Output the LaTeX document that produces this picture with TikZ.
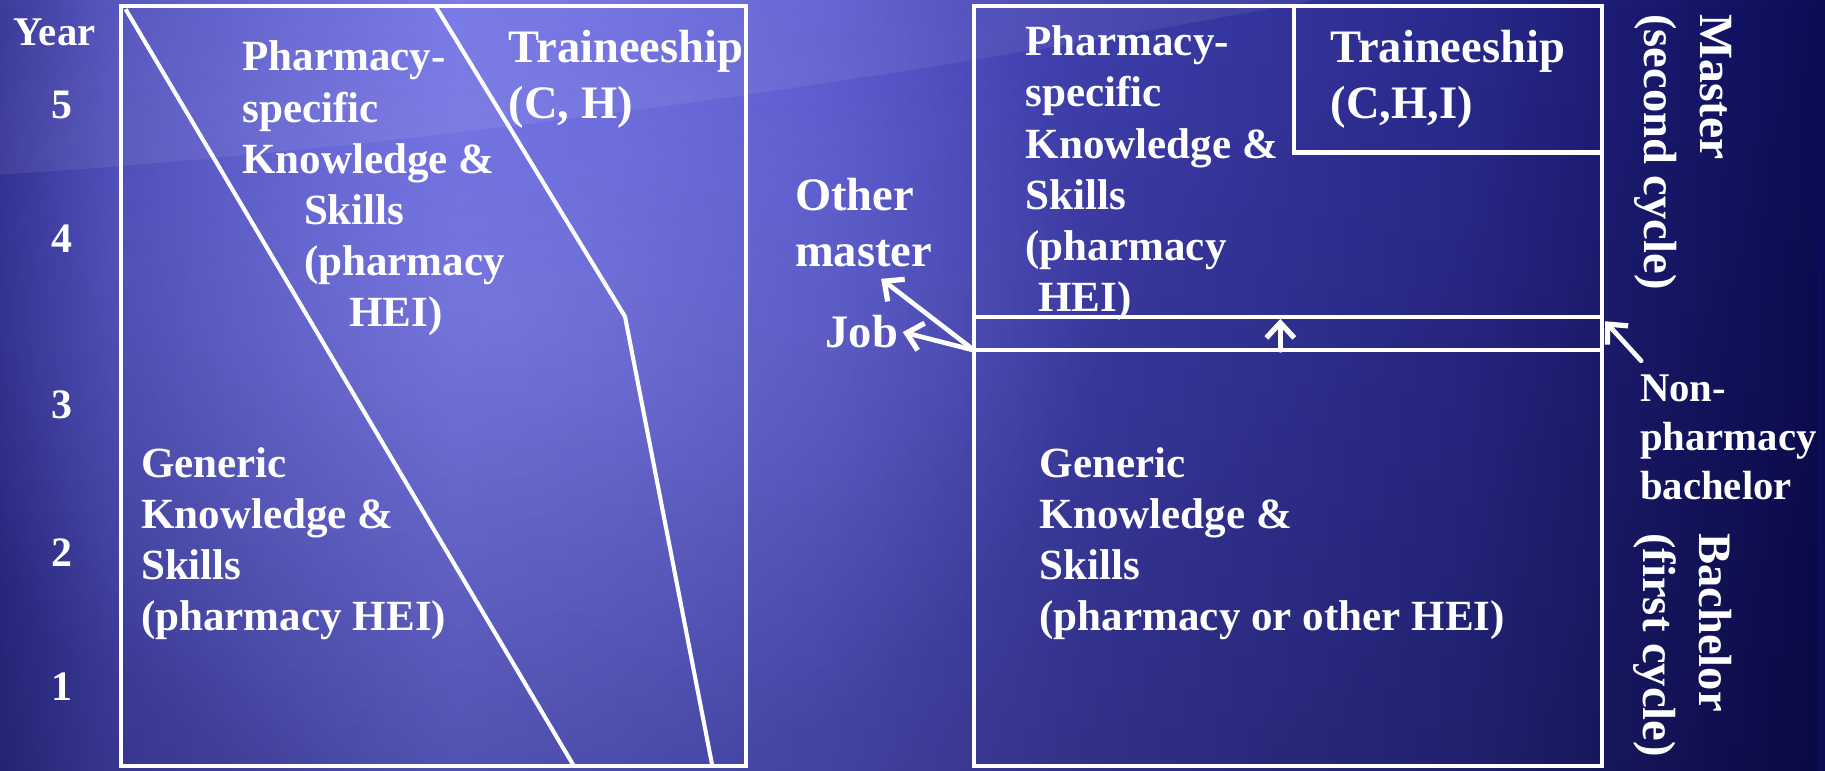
\documentclass[tikz,border=0pt]{standalone}
\usepackage{fontspec}
\setmainfont{Liberation Serif}
\usetikzlibrary{arrows.meta,fadings,calc}
\definecolor{bgA}{RGB}{46,46,148}
\definecolor{bgB}{RGB}{70,70,182}
\definecolor{bgC}{RGB}{104,104,226}
\definecolor{bgD}{RGB}{86,86,206}
\definecolor{bgE}{RGB}{62,62,172}
\definecolor{bgF}{RGB}{42,42,142}
\definecolor{bgG}{RGB}{26,26,112}
\definecolor{bgH}{RGB}{12,12,86}
\definecolor{glowc}{RGB}{150,150,255}
\pgfdeclarehorizontalshading{bgshade}{100bp}{color(0bp)=(bgA); color(25bp)=(bgA); color(28bp)=(bgB); color(37.5bp)=(bgC); color(47.5bp)=(bgD); color(55bp)=(bgE); color(65bp)=(bgF); color(70bp)=(bgG); color(75bp)=(bgH); color(100bp)=(bgH)}
\tikzfading[name=glowfade, inner color=transparent!0, outer color=transparent!100]
\tikzfading[name=downfade, top color=transparent!100, bottom color=transparent!0]
\tikzset{
  txt/.style={text=white, inner sep=0pt, align=left, font=\bfseries\fontsize{37}{44}\selectfont},
  bigtxt/.style={txt, font=\bfseries\fontsize{40}{48}\selectfont},
  midtxt/.style={txt, font=\bfseries\fontsize{35}{42}\selectfont},
  numtxt/.style={txt, font=\bfseries\fontsize{36}{42}\selectfont},
  box/.style={draw=white, line width=3.5pt, inner sep=0pt, outer sep=0pt},
  wline/.style={draw=white, line width=3.5pt},
  arr/.style={draw=white, line width=4pt, line cap=round, -{Straight Barb[length=13pt,width=24pt,line width=4.5pt]}}
}
\begin{document}
\begin{tikzpicture}[x=1pt,y=-1pt]
\useasboundingbox (0,0) rectangle (1568,662);
% background
\shade[shading=bgshade] (0,0) rectangle (1568,662);
\fill[glowc, fill opacity=0.55, path fading=glowfade] (430,270) ellipse [x radius=520, y radius=420];
\fill[black, fill opacity=0.22, path fading=downfade] (0,0) rectangle (1568,662);
\fill[white, fill opacity=0.07] (0,0) -- (0,150) .. controls (350,128) and (760,70) .. (1130,0) -- cycle;
% left diagram
\node[box, minimum width=537pt, minimum height=653pt] (lbox) at (372.5,331.5) {};
\draw[wline] (108,8) -- (493,658);
\draw[wline, line join=round] (374,5) -- (537,272) -- (612,658);
\node[bigtxt, anchor=center] (year) at (47,28) {\fontsize{35}{42}\selectfont Year};
\node[numtxt, anchor=center] (y5) at (53,90) {5};
\node[numtxt, anchor=center] (y4) at (53,205) {4};
\node[numtxt, anchor=center] (y3) at (53,348) {3};
\node[numtxt, anchor=center] (y2) at (53,475) {2};
\node[numtxt, anchor=center] (y1) at (53,590) {1};
\node[txt, anchor=north west] (lpk) at (208,35) {Pharmacy-\\specific\\Knowledge \&\\\hspace*{53pt}Skills\\\hspace*{53pt}(pharmacy\\\hspace*{92pt}HEI)};
\node[bigtxt, anchor=north west] (ltr) at (437,26) {Traineeship\\(C, H)};
\node[txt, anchor=north west] (lgk) at (121,384) {Generic\\Knowledge \&\\Skills\\(pharmacy HEI)};
% right diagram
\node[box, minimum width=539pt, minimum height=267pt] (upper) at (1106.5,138.5) {};
\node[box, minimum width=539pt, minimum height=357pt] (lower) at (1106.5,479.5) {};
\node[box, minimum width=264pt, minimum height=126pt] (trbox) at (1244,68) {};
\draw[wline] (upper.south west) -- (lower.north west);
\draw[wline] (upper.south east) -- (lower.north east);
\node[txt, anchor=north west] (rpk) at (881,22) {Pharmacy-\\specific\\Knowledge \&\\Skills\\(pharmacy\\\hspace*{11pt}HEI)};
\node[bigtxt, anchor=north west] (rtr) at (1143,26) {Traineeship\\(C,H,I)};
\node[txt, anchor=north west] (rgk) at (893,384) {Generic\\Knowledge \&\\Skills\\(pharmacy or other HEI)};
\node[bigtxt, anchor=north west] (om) at (683,153) {Other\\master};
\node[bigtxt, anchor=north west] (job) at (709,271) {Job};
\node[midtxt, anchor=north west] (np) at (1409,322) {Non-\\pharmacy\\bachelor};
\node[bigtxt, anchor=north west, rotate=-90] (master) at (1488,12) {\fontsize{41}{48}\selectfont Master\\(second cycle)};
\node[bigtxt, anchor=north west, rotate=-90] (bachelor) at (1488,458) {Bachelor\\(first cycle)};
% arrows
\draw[arr] (lower.north west) -- ([xshift=4pt]job.east);
\draw[arr] (lower.north west) -- ($(om.south)+(15,10)$);
\draw[arr] ([xshift=-6.5pt]lower.north) -- ([xshift=-6.5pt,yshift=-2pt]upper.south);
\draw[arr] ($(np.north west)+(1,-12)$) -- ($(upper.south east)+(3,4)$);
\end{tikzpicture}
\end{document}
